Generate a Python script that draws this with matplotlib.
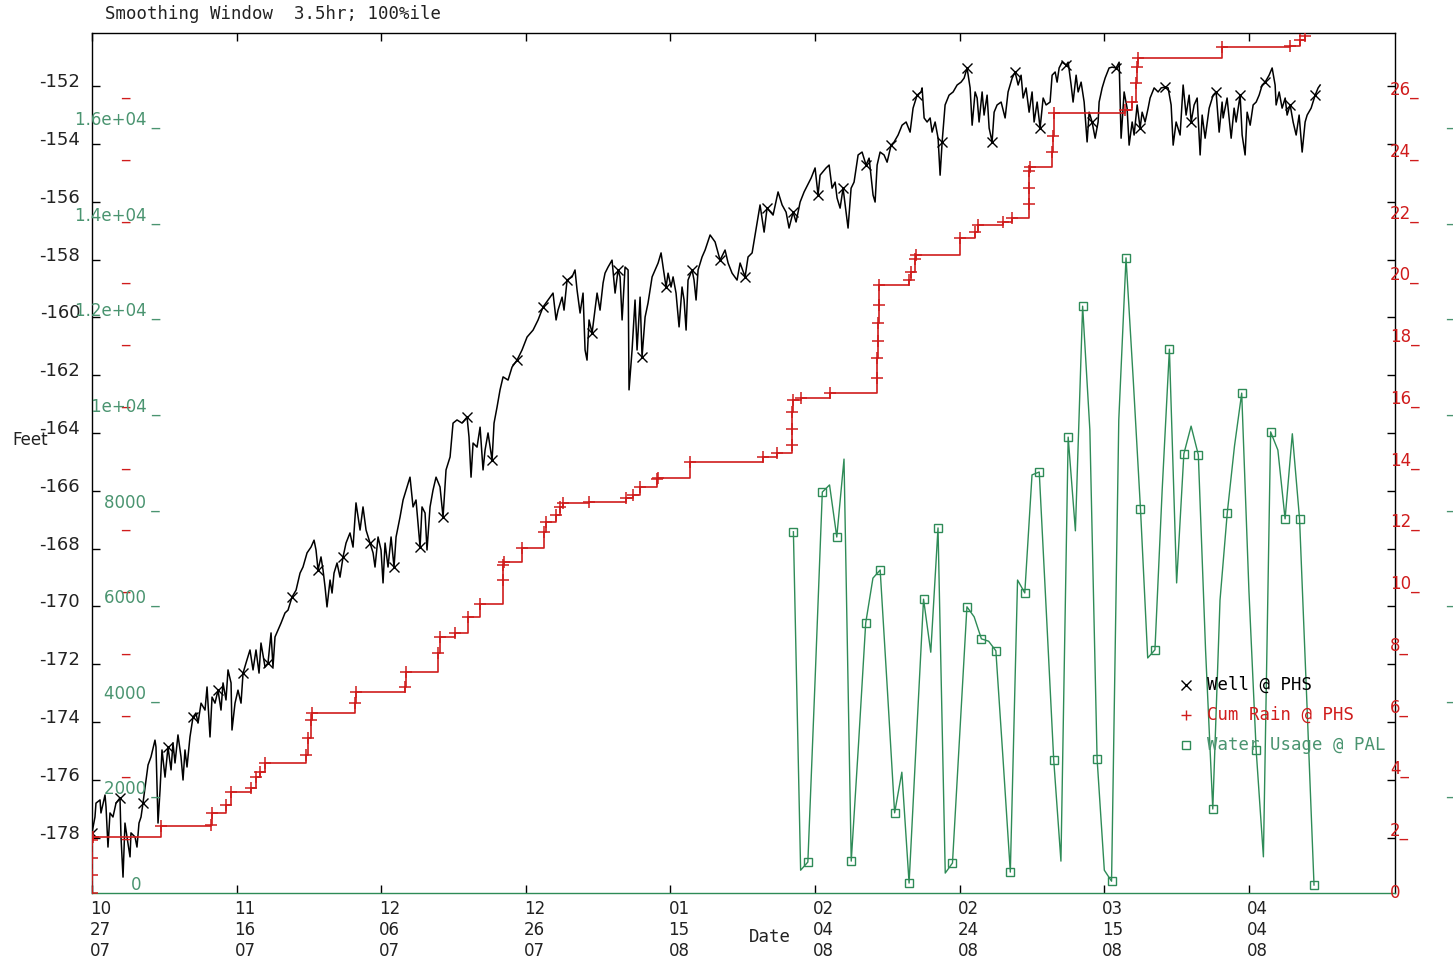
import datetime as dt
import numpy as np
import matplotlib
matplotlib.use("Agg")
import matplotlib.pyplot as plt
import matplotlib.dates as mdates
from matplotlib.lines import Line2D
from matplotlib.transforms import ScaledTranslation, blended_transform_factory

# --- data (days since 10/27/07) ---
start = dt.datetime(2007, 10, 27)

well_day = [
    0.0, 0.41, 0.55, 1.11, 1.24, 1.80, 1.94, 2.21, 2.49, 2.90,
    3.32, 3.87, 4.01, 4.29, 4.56, 4.84, 5.26, 5.39, 5.95, 6.22,
    6.50, 6.78, 7.05, 7.47, 7.75, 8.16, 8.71, 8.85, 9.13, 9.41,
    9.68, 10.10, 10.51, 10.93, 11.20, 11.48, 11.89, 12.31, 12.59, 12.86,
    13.14, 13.55, 13.97, 14.38, 14.66, 15.08, 15.63, 15.91, 16.32, 16.60,
    17.01, 17.43, 17.84, 18.12, 18.53, 18.81, 19.23, 19.36, 19.78, 20.19,
    20.61, 20.89, 21.30, 21.85, 22.27, 22.68, 23.10, 23.37, 23.93, 24.34,
    24.76, 25.03, 25.31, 25.73, 26.14, 26.69, 27.11, 27.66, 28.22, 28.77,
    29.18, 29.74, 30.29, 30.71, 30.98, 31.26, 31.67, 31.95, 32.23, 32.50,
    32.92, 33.20, 33.47, 33.89, 34.30, 34.72, 35.13, 35.68, 36.10, 36.51,
    37.07, 37.48, 37.90, 38.45, 38.87, 39.14, 39.56, 39.97, 40.25, 40.53,
    40.94, 41.36, 41.77, 42.05, 42.60, 43.02, 43.43, 43.98, 44.40, 44.81,
    45.37, 45.64, 46.06, 46.33, 46.75, 47.16, 47.58, 48.13, 48.55, 48.96,
    49.52, 49.93, 50.48, 51.18, 51.87, 52.14, 52.42, 52.70, 53.25, 53.67,
    54.08, 54.36, 54.77, 55.33, 55.60, 56.02, 56.43, 56.85, 57.54, 58.09,
    58.78, 59.47, 60.17, 61.00, 61.69, 62.38, 63.07, 63.76, 64.18, 64.45,
    65.01, 65.28, 65.70, 66.39, 66.80, 67.08, 67.50, 67.91, 68.19, 68.46,
    68.74, 69.16, 69.43, 69.85, 70.26, 70.68, 70.95, 71.37, 71.92, 72.34,
    72.75, 73.03, 73.31, 73.72, 74.14, 74.27, 74.69, 75.10, 75.38, 75.80,
    76.07, 76.49, 76.90, 77.46, 77.87, 78.29, 78.70, 78.98, 79.39, 79.67,
    80.08, 80.36, 80.77, 81.19, 81.60, 81.88, 82.16, 82.43, 82.99, 83.26,
    83.54, 83.82, 84.37, 84.79, 85.48, 86.17, 86.86, 87.55, 87.97, 88.52,
    89.21, 89.63, 90.32, 90.73, 91.29,
    92.39, 92.95, 93.36, 94.19, 94.88, 95.44, 95.99, 96.40, 96.96, 97.37,
    97.93, 98.48, 99.17, 99.45, 100.00, 100.41, 100.69, 101.52, 101.94, 102.35,
    102.77, 103.04, 103.46, 103.87, 104.29, 104.56, 104.98, 105.39, 105.95, 106.50,
    107.05, 107.47, 108.02, 108.30, 108.58, 108.99, 109.54, 109.96, 110.51, 110.93,
    111.48, 112.03, 112.59, 113.14, 113.55, 114.11, 114.66, 114.80, 115.08, 115.49,
    115.91, 116.18, 116.60, 117.01, 117.29, 117.57, 117.98, 118.53, 119.09, 119.64,
    120.19, 120.61, 121.02, 121.44, 121.72, 122.13, 122.41, 122.68, 123.10, 123.37,
    123.79, 124.07, 124.48, 124.76, 125.17, 125.73, 126.28, 126.69, 127.25, 127.66,
    128.08, 128.49, 128.77, 129.18, 129.60, 130.01, 130.29, 130.71, 131.12, 131.54,
    131.95, 132.50, 132.78, 133.20, 133.47, 133.75, 134.16, 134.72, 135.00, 135.41,
    135.68, 136.10, 136.38, 136.79, 137.21, 137.62, 137.90, 138.31, 138.73, 139.14,
    139.28, 139.70, 140.11, 140.66, 141.08, 141.63, 142.05, 142.32, 142.74, 143.15,
    143.43, 143.85, 144.12, 144.54, 144.95, 145.23, 145.64, 146.06, 146.33, 146.89,
    147.44, 147.86, 148.41, 148.82, 149.24, 149.52, 149.93, 150.48, 150.90, 151.31,
    151.73, 152.01, 152.42, 152.84, 153.25, 153.53, 153.94, 154.50, 155.05, 155.46,
    155.88, 156.29, 156.43, 156.98, 157.54, 157.95, 158.23, 158.78, 159.06, 159.47,
    159.75, 160.17, 160.58, 161.00, 161.41, 161.83, 162.24, 162.79, 163.21, 163.62,
    163.76, 164.18, 164.59, 165.01, 165.28, 165.70, 166.11, 166.53, 166.94, 167.36,
    167.77, 168.05, 168.60, 169.16, 169.57, 169.85,
]
well_ft = [
    -177.84, -177.29, -176.81, -176.70, -177.15, -176.53, -176.94, -178.33, -177.15, -177.29,
    -176.81, -176.63, -177.98, -179.37, -177.50, -177.98, -178.67, -177.84, -177.98, -178.33,
    -177.50, -177.29, -176.81, -176.01, -175.49, -175.21, -174.63, -174.87, -177.50, -176.36,
    -174.97, -175.91, -174.87, -175.66, -174.73, -175.42, -174.45, -175.21, -176.01, -174.97,
    -175.56, -174.52, -173.83, -173.69, -174.04, -173.35, -173.59, -172.79, -174.52, -173.14,
    -173.35, -172.90, -173.59, -172.65, -173.24, -172.20, -172.65, -174.28, -173.35, -172.90,
    -173.35, -172.31, -171.96, -171.51, -172.20, -171.51, -172.31, -171.27, -172.10, -171.96,
    -170.92, -172.10, -171.06, -170.82, -170.58, -170.23, -170.13, -169.68, -169.44, -168.85,
    -168.64, -168.15, -167.95, -167.71, -168.05, -168.74, -168.29, -168.74, -169.33, -170.02,
    -169.09, -169.54, -168.85, -168.50, -168.99, -168.29, -167.81, -167.46, -167.95, -166.42,
    -167.36, -166.56, -167.36, -167.81, -168.15, -168.64, -167.60, -168.05, -169.19, -167.81,
    -168.64, -167.60, -168.64, -167.60, -166.91, -166.32, -165.98, -165.53, -166.56, -166.32,
    -167.95, -166.56, -166.77, -168.05, -166.56, -165.98, -165.53, -165.87, -166.91, -165.28,
    -164.83, -163.66, -163.55, -163.66, -163.45, -164.14, -165.53, -164.35, -164.49, -163.80,
    -165.28, -164.59, -164.00, -164.94, -163.66, -163.10, -162.51, -162.06, -162.17, -161.72,
    -161.48, -161.13, -160.68, -160.44, -160.09, -159.64, -159.40, -159.16, -160.09, -159.75,
    -159.30, -159.75, -158.71, -158.60, -158.36, -159.05, -159.85, -159.16, -161.13, -161.48,
    -160.09, -160.54, -159.99, -159.16, -159.75, -158.81, -158.47, -158.26, -158.02, -159.16,
    -158.36, -158.60, -160.09, -158.26, -158.36, -162.51, -161.13, -159.40, -161.13, -159.30,
    -161.37, -159.99, -159.50, -158.60, -158.36, -158.12, -157.77, -158.26, -158.95, -158.47,
    -158.95, -158.60, -159.16, -160.33, -158.95, -159.40, -160.44, -158.71, -158.36, -158.71,
    -159.40, -158.36, -157.91, -157.67, -157.15, -157.39, -158.02, -157.67, -158.12, -158.47,
    -158.71, -158.12, -158.60, -157.91, -157.77,
    -156.11, -157.05, -156.22, -156.46, -155.66, -156.11, -156.36, -156.91, -156.36, -156.70,
    -156.01, -155.66, -155.32, -155.18, -154.83, -155.77, -155.08, -154.83, -154.73, -155.53,
    -155.32, -155.87, -156.22, -155.53, -156.36, -156.91, -155.53, -155.32, -154.38, -154.28,
    -154.73, -154.49, -155.77, -156.01, -154.73, -154.28, -154.38, -154.63, -154.04, -153.93,
    -153.69, -153.35, -153.24, -153.59, -152.76, -152.31, -152.20, -152.06, -153.10, -153.24,
    -153.10, -153.59, -153.24, -153.80, -155.08, -153.93, -152.65, -152.31, -152.20, -151.96,
    -151.86, -151.72, -151.37, -152.06, -153.35, -152.20, -152.41, -153.24, -152.20, -153.00,
    -152.31, -153.45, -153.93, -152.90, -152.65, -152.55, -153.10, -152.20, -151.72, -151.51,
    -151.96, -151.62, -152.41, -152.06, -152.90, -152.20, -153.24, -152.55, -153.45, -152.41,
    -152.65, -152.55, -151.62, -151.51, -151.86, -151.37, -151.17, -151.27, -151.17, -151.96,
    -152.55, -151.62, -152.20, -151.86, -152.55, -153.93, -152.90, -153.24, -153.80, -153.24,
    -152.55, -152.06, -151.72, -151.37, -151.34, -151.37, -151.17, -153.80, -152.20, -152.76,
    -154.04, -153.24, -153.69, -152.65, -153.45, -152.90, -153.24, -152.76, -152.41, -152.06,
    -152.20, -152.06, -152.03, -152.06, -152.65, -154.04, -153.24, -153.69, -151.96, -153.00,
    -152.31, -153.24, -152.65, -152.41, -154.38, -153.00, -153.80, -152.76, -152.31, -152.20,
    -153.59, -152.55, -153.10, -152.41, -153.80, -152.76, -153.24, -152.31, -153.69, -154.38,
    -152.90, -153.35, -152.65, -152.55, -152.31, -151.96, -151.86, -151.62, -151.37, -151.96,
    -152.65, -152.20, -152.76, -152.41, -153.00, -152.65, -153.24, -153.69, -153.00, -154.28,
    -153.24, -153.00, -152.76, -152.31, -152.06, -151.96,
]

rain_day = [0, 0, 0, 0, 0.1, 9.5, 16.5, 16.6, 18.5, 19.2, 22.0, 22.7, 23.2, 23.9, 29.6,
            29.9, 30.3, 30.4, 36.4, 36.5, 43.3, 43.4, 47.9, 48.1, 50.2, 52.0, 53.7, 56.8,
            56.8, 57.0, 59.5, 62.5, 62.8, 64.2, 64.7, 65.1, 68.8, 73.9, 74.8, 75.8, 78.1,
            78.3, 82.7, 92.8, 94.7, 96.8, 96.8, 96.8, 96.9, 98.0, 102.1, 108.6, 108.6,
            108.7, 108.7, 108.8, 108.9, 113.0, 113.3, 113.8, 114.0, 120.1, 122.1, 122.5,
            126.0, 127.2, 129.6, 129.6, 129.6, 129.7, 132.8, 132.9, 133.1, 142.9, 143.8,
            144.4, 144.5, 144.6, 156.3, 165.7, 167.1, 167.8]
rain_in = [0, 0.58, 1.13, 1.72, 1.81, 2.17, 2.20, 2.59, 2.85, 3.27, 3.40, 3.76, 3.92, 4.21,
           4.47, 5.02, 5.60, 5.83, 6.15, 6.50, 6.67, 7.16, 7.77, 8.29, 8.42, 8.94, 9.36,
           10.14, 10.62, 10.72, 11.17, 11.69, 12.01, 12.24, 12.50, 12.63, 12.66, 12.79,
           12.89, 13.15, 13.41, 13.44, 13.96, 14.12, 14.25, 14.51, 15.03, 15.58, 15.97,
           16.03, 16.19, 16.68, 17.33, 17.88, 18.46, 19.04, 19.69, 19.85, 20.11, 20.53,
           20.66, 21.21, 21.40, 21.63, 21.73, 21.86, 22.31, 22.83, 23.38, 23.51, 24.00,
           24.51, 25.26, 25.36, 25.62, 26.23, 26.75, 27.04, 27.40, 27.43, 27.62, 27.75]

# daily water usage, 02/01/08 .. 04/13/08
usage_first_day = 97
usage_gal = [7390, 310, 480, 4290, 8220, 8370, 7280, 8910, 500, 2930,
             5480, 6420, 6590, 4080, 1510, 2360, 40, 3030, 5980, 4870,
             7470, 250, 460, 3140, 5820, 5610, 5150, 5100, 4900, 2620,
             270, 6380, 6110, 8580, 8640, 5650, 2620, 500, 9370, 7410,
             12110, 9520, 2640, 310, 80, 9730, 13120, 10570, 7870, 4750,
             4920, 8260, 11210, 6320, 9020, 9600, 9000, 4920, 1590, 5960,
             7780, 9180, 10290, 6150, 2820, 590, 9480, 9100, 7660, 9440,
             7660, 3870, 0]

feet_ticks = list(range(-178, -151, 2))
rain_ticks = list(range(0, 27, 2))
usage_ticks = [0, 2000, 4000, 6000, 8000, 10000, 12000, 14000, 16000]
usage_labels = ["0", "2000", "4000", "6000", "8000", "1e+04", "1.2e+04", "1.4e+04", "1.6e+04"]
date_tick_days = [0, 20, 40, 60, 80, 100, 120, 140, 160]

RED = "#d01c1c"
GREEN = "#2e8b57"
GREEN_TXT = "#4a9470"
MONO = "DejaVu Sans Mono"

def to_num(days):
    return [mdates.date2num(start + dt.timedelta(days=d)) for d in days]

W, H = 1453, 959
fig = plt.figure(figsize=(W / 100, H / 100), dpi=100)
ax = fig.add_axes([92 / W, 1 - 893 / H, 1303 / W, 860 / H])
ax_r = ax.twinx()
ax_g = ax.twinx()

# well level
wx = to_num(well_day)
mark_idx = list(np.searchsorted(well_day, np.arange(0, 170, 3.45)))
mark_idx = [i for i in mark_idx if i < len(well_day)]
ax.plot(wx, well_ft, color="black", lw=1.1, marker="x", markevery=mark_idx,
        ms=7, mew=1.0)

# cumulative rain
ax_r.plot(to_num(rain_day), rain_in, color=RED, lw=1.2, drawstyle="steps-post",
          marker="+", ms=8, mew=1.1)

# water usage
udays = [usage_first_day + i for i in range(len(usage_gal))]
ax_g.plot(to_num(udays), usage_gal, color=GREEN, lw=1.0, marker="s", mfc="none",
          markevery=2, ms=6, mew=1.0)

xmin = mdates.date2num(start)
xmax = mdates.date2num(start + dt.timedelta(days=180.2))
ax.set_xlim(xmin, xmax)
ax.set_ylim(-179.92, -150.16)
ax_r.set_ylim(0, 27.85)
ax_g.set_ylim(-167, 17824)

for a in (ax_r, ax_g):
    a.set_yticks([])
    for s in a.spines.values():
        s.set_visible(False)

for s in ("left", "top", "right"):
    ax.spines[s].set_color("black")
    ax.spines[s].set_linewidth(1.0)
ax.spines["bottom"].set_color(GREEN)
ax.spines["bottom"].set_linewidth(1.0)

ax.set_yticks(feet_ticks)
ax.set_yticklabels([str(v) for v in feet_ticks])
ax.tick_params(axis="y", direction="in", length=6, width=1, left=True, right=True,
               labelleft=True, labelright=False, pad=8.5, labelsize=13,
               labelcolor="#222222")
off_up = ScaledTranslation(0, 6 / 100, fig.dpi_scale_trans)
for lab in ax.get_yticklabels():
    lab.set_transform(lab.get_transform() + off_up)

dticks = to_num(date_tick_days)
dlabels = [(start + dt.timedelta(days=d)).strftime("%m\n%d\n%y") for d in date_tick_days]
ax.set_xticks(dticks)
ax.set_xticklabels(dlabels, ha="left", linespacing=1.2)
ax.tick_params(axis="x", direction="in", length=6, width=1, top=True, bottom=True,
               pad=5, labelsize=12, labelcolor="#222222")
off_left = ScaledTranslation(-2 / 100, 0, fig.dpi_scale_trans)
for lab in ax.get_xticklabels():
    lab.set_transform(lab.get_transform() + off_left)

# rain axis labels (right) and marks (left)
rtr = blended_transform_factory(fig.transFigure, ax_r.transData)
for v in rain_ticks:
    ax_r.text(1390 / W, v, "0" if v == 0 else f"{v}_", transform=rtr, ha="left",
              va="center", color=RED, fontsize=12)
    if v > 0:
        ax_r.text(125 / W, v, "_", transform=rtr, ha="center", va="center",
                  color=RED, fontsize=12)

# water usage labels (left) and marks (right)
gtr = blended_transform_factory(fig.transFigure, ax_g.transData)
for v, lab in zip(usage_ticks, usage_labels):
    if v == 0:
        ax_g.text(141 / W, v, lab, transform=gtr, ha="right", va="center",
                  color=GREEN_TXT, fontsize=12)
    else:
        ax_g.text(160 / W, v, lab + " _", transform=gtr, ha="right", va="center",
                  color=GREEN_TXT, fontsize=12)
        ax_g.text(1450 / W, v, "_", transform=gtr, ha="center", va="center",
                  color=GREEN_TXT, fontsize=12)

fig.text(105 / W, 1 - 14 / H, "Smoothing Window  3.5hr; 100%ile", ha="left",
         va="center", family=MONO, fontsize=12.5, color="#222222")
fig.text(12 / W, 1 - 440 / H, "Feet", ha="left", va="center", fontsize=12,
         color="#222222")
fig.text(770 / W, 1 - 937 / H, "Date", ha="center", va="center", family=MONO,
         fontsize=12.5, color="#222222")

# key
keys = [("Well @ PHS", "x", "black", "black"),
        ("Cum Rain @ PHS", "+", RED, RED),
        ("Water Usage @ PAL", "s", GREEN, GREEN_TXT)]
for i, (lbl, mk, col, tcol) in enumerate(keys):
    yy = 1 - (685 + 30 * i) / H
    fig.add_artist(Line2D([1186 / W], [yy], marker=mk, color=col, ls="none",
                          mfc="none", ms=7 if mk != "s" else 6, mew=1.0,
                          transform=fig.transFigure))
    fig.text(1207 / W, yy, lbl, ha="left", va="center", family=MONO,
             fontsize=12.5, color=tcol)

fig.savefig("out.png", dpi=100)
